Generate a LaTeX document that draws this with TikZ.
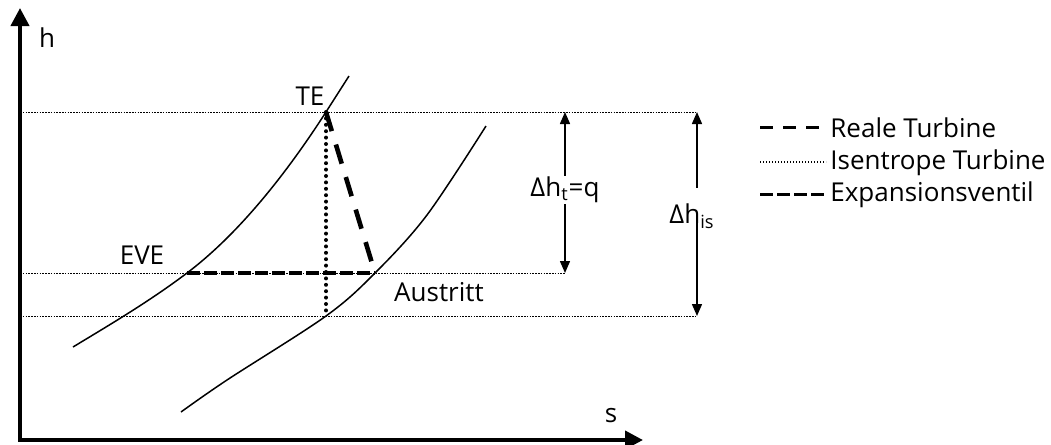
\documentclass[tikz,border=0pt]{standalone}
\usepackage{fontspec}
\setmainfont{Open Sans}
\usetikzlibrary{arrows.meta}

\begin{document}
\begin{tikzpicture}[
  x=0.5pt, y=-0.5pt,
  font=\fontsize{13}{15}\selectfont,
  axis/.style={line width=2pt, {Triangle[length=9pt,width=9pt]}-{Triangle[length=9pt,width=9pt]}},
  curve/.style={line width=0.75pt},
  guide/.style={line width=0.45pt, dash pattern=on 0.8pt off 0.6pt},
  reale/.style={line width=2.3pt, dash pattern=on 10pt off 7pt},
  isen/.style={line width=2pt, line cap=round, dash pattern=on 0pt off 3.2pt},
  ventil/.style={line width=1.7pt, dash pattern=on 6.5pt off 2pt},
  lreale/.style={line width=1.5pt, dash pattern=on 6.5pt off 5pt},
  lisen/.style={line width=0.8pt, dash pattern=on 0.7pt off 0.8pt},
  dimarr/.style={line width=0.75pt, -{Triangle[length=6pt,width=5pt]}},
  lbl/.style={inner sep=0.5pt},
  lgd/.style={inner sep=0pt, anchor=base west},
]

  \useasboundingbox (0,0) rectangle (1051,445);

  % --- Points ---
  \coordinate (O)   at (20,440);
  \coordinate (hT)  at (20,8);
  \coordinate (sT)  at (643,440);
  \coordinate (TE)  at (326,112);
  \coordinate (EVE) at (187,273);
  \coordinate (AR)  at (375,273);  % real outlet
  \coordinate (AS)  at (326,316);  % isentropic outlet
  \coordinate (qT)  at (565,112);
  \coordinate (qB)  at (565,273);
  \coordinate (isT) at (697,112);
  \coordinate (isB) at (697,316);

  % --- Guide lines ---
  \draw[guide] (O |- TE) -- (isT);
  \draw[guide] (O |- EVE) -- (qB);
  \draw[guide] (O |- AS) -- (isB);

  % --- Axes ---
  \draw[axis] (hT) -- (O) -- (sT);
  \node (h) at (47,38) {h};
  \node (s) at (611,416) {s};

  % --- Isobars ---
  \draw[curve] (73,347) .. controls (111,324) and (150,301) .. (EVE)
    .. controls (232,239) and (279,185) .. (TE) -- (349,76);
  \draw[curve] plot[smooth, tension=0.55] coordinates
    {(181,412) (227,380) (AS) (AR) (427,215) (486,126)};

  % --- Processes ---
  \draw[isen] (TE) -- (AS);
  \draw[ventil] (EVE) -- (AR);
  \draw[reale] (TE) -- (AR);

  \node (te)  at (310,96)  {TE};
  \node (eve) at (142,255) {EVE};
  \node (aus) at (439,292) {Austritt};

  % --- Enthalpy differences ---
  \node[lbl] (dht) at (565,190) {Δh\textsubscript{t}=q};
  \draw[dimarr] (dht.north -| qT) -- (qT);
  \draw[dimarr] (dht.south -| qB) -- (qB);

  \node[lbl, anchor=base] (dhis) at (692,223) {Δh\textsubscript{is}};
  \draw[dimarr] ([yshift=7pt]dhis.north -| isT) -- (isT);
  \draw[dimarr] (dhis.base -| isB) -- (isB);

  % --- Legend ---
  \node[lgd] (lgR) at (830,137) {Reale Turbine};
  \node[lgd] (lgI) at (830,169) {Isentrope Turbine};
  \node[lgd] (lgE) at (830,201) {Expansionsventil};
  \draw[lreale] ([xshift=-35pt]lgR.west) -- ([xshift=-5.5pt]lgR.west);
  \draw[lisen]  ([xshift=-35pt]lgI.west) -- ([xshift=-2pt]lgI.west);
  \draw[ventil] ([xshift=-35pt]lgE.west) -- ([xshift=-3pt]lgE.west);

\end{tikzpicture}
\end{document}
